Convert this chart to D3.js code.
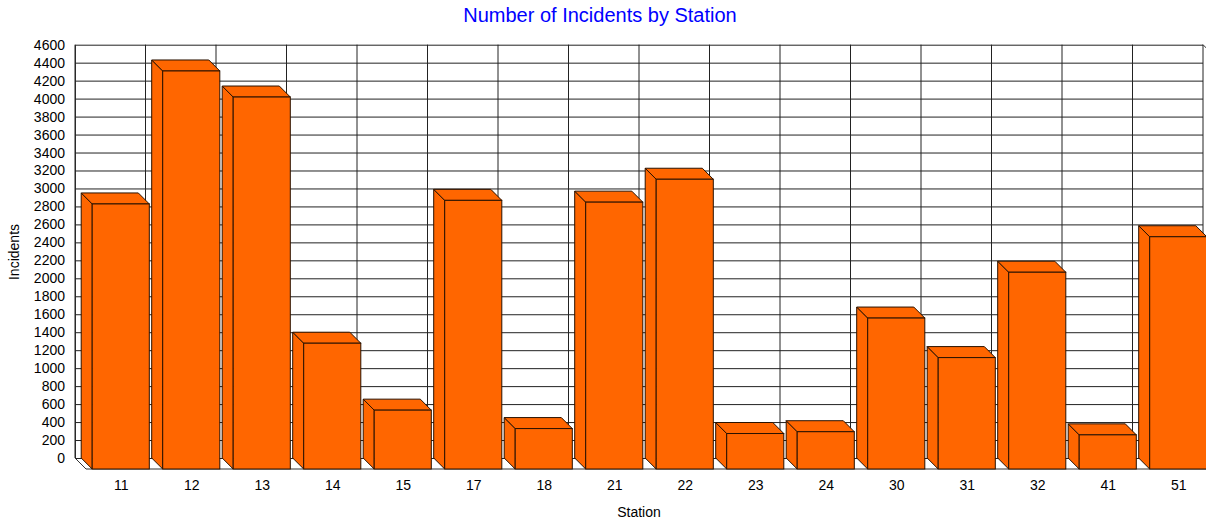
<!DOCTYPE html>
<html>
<head>
<meta charset="utf-8">
<script src="https://cdn.jsdelivr.net/npm/d3@7"></script>
<style>
    body { margin: 0; background: #fff; }
    svg { display: block; font-family: Arial, "Liberation Sans", sans-serif; }
</style>
</head>
<body>
<svg id="chart"></svg>
<script>
const stations = ["11", "12", "13", "14", "15", "17", "18", "21", "22", "23", "24", "30", "31", "32", "41", "51"];
const incidents = [2950, 4430, 4140, 1400, 655, 2990, 450, 2970, 3225, 395, 415, 1680, 1240, 2190, 380, 2585];
const yTickValues = [0, 200, 400, 600, 800, 1000, 1200, 1400, 1600, 1800, 2000, 2200,
    2400, 2600, 2800, 3000, 3200, 3400, 3600, 3800, 4000, 4200, 4400, 4600];

class BarChart3D {

    constructor( config, data ) {
        this.config = {
            parent: config.parent,
            width: config.width || 256,
            height: config.height || 256,
            wall: config.wall,           // back wall box
            depth: config.depth || 11,
            title: config.title || '',
            xlabel: config.xlabel || '',
            ylabel: config.ylabel || '',
            fontsize: config.fontsize || '14px'
        }
        this.data = data;
        this.init();
    }

    init() {
        let self = this;
        const w = self.config.wall;

        self.svg = d3.select( self.config.parent )
            .attr("width", self.config.width)
            .attr("height", self.config.height);

        self.xscale = d3.scaleBand()
            .domain( self.data.map(d => d.station) )
            .range( [w.left, w.right] );

        self.yscale = d3.scaleLinear()
            .domain( [0, 4600] )
            .range( [w.bottom, w.top] );

        self.render();
    }

    render() {
        let self = this;
        const w = self.config.wall;
        const dz = self.config.depth;
        const stroke = '#2a1200';

        // back wall + grid
        self.svg.append('rect')
            .attr('x', w.left).attr('y', w.top)
            .attr('width', w.right - w.left).attr('height', w.bottom - w.top)
            .attr('fill', '#fff');

        const yaxis = d3.axisLeft( self.yscale )
            .tickValues( yTickValues )
            .tickFormat( d3.format('d') )
            .tickSize( -(w.right - w.left) )
            .tickSizeOuter(0)
            .tickPadding(10);

        const yg = self.svg.append('g')
            .attr('transform', `translate(${w.left}, 0)`)
            .call( yaxis );
        yg.select('.domain').attr('stroke', '#333');
        yg.selectAll('.tick line').attr('stroke', '#222');
        yg.selectAll('.tick text')
            .attr('fill', '#000')
            .style('font-size', self.config.fontsize)
            .style('font-family', 'Arial, "Liberation Sans", sans-serif');

        // vertical grid on the wall
        const bounds = self.xscale.domain().map(s => self.xscale(s)).concat([w.right]);
        self.svg.append('g')
            .selectAll('line')
            .data(bounds)
            .join('line')
            .attr('x1', d => d).attr('x2', d => d)
            .attr('y1', w.top).attr('y2', w.bottom)
            .attr('stroke', '#222');

        // floor
        self.svg.append('path')
            .attr('d', `M${w.left},${w.bottom} L${w.left + dz},${w.bottom + dz} L${self.config.width + 20},${w.bottom + dz}`)
            .attr('fill', 'none')
            .attr('stroke', '#333');

        // right edge of the wall
        self.svg.append('path')
            .attr('d', `M${w.right},${w.top} L${w.right + dz},${w.top + dz}`)
            .attr('fill', 'none')
            .attr('stroke', '#333');

        // bars
        const bw = self.xscale.bandwidth() * 0.81;
        const off = (self.xscale.bandwidth() - bw) / 2 - 0.5;
        const bars = self.svg.append('g')
            .selectAll('g')
            .data(self.data)
            .join('g');

        const fx = d => self.xscale(d.station) + dz + off;
        const fy = d => self.yscale(d.value) + dz;
        const base = w.bottom + dz;

        bars.append('path')
            .attr('d', d => `M${fx(d) - dz},${fy(d) - dz} L${fx(d)},${fy(d)} L${fx(d)},${base} L${fx(d) - dz},${base - dz} Z`)
            .attr('fill', '#ff6600')
            .attr('stroke', stroke);

        bars.append('path')
            .attr('d', d => `M${fx(d) - dz},${fy(d) - dz} L${fx(d) - dz + bw},${fy(d) - dz} L${fx(d) + bw},${fy(d)} L${fx(d)},${fy(d)} Z`)
            .attr('fill', '#ff6600')
            .attr('stroke', stroke);

        bars.append('rect')
            .attr('x', fx)
            .attr('y', fy)
            .attr('width', bw)
            .attr('height', d => base - fy(d))
            .attr('fill', '#ff6600')
            .attr('stroke', stroke);

        // x axis labels (front plane)
        const xfront = self.xscale.copy().range( [w.left + dz, w.right + dz] );
        const xaxis = d3.axisBottom( xfront ).tickSize(0).tickPadding(11);
        const xg = self.svg.append('g')
            .attr('transform', `translate(0, ${base})`)
            .call( xaxis );
        xg.select('.domain').remove();
        xg.selectAll('.tick text')
            .attr('fill', '#000')
            .style('font-size', self.config.fontsize)
            .style('font-family', 'Arial, "Liberation Sans", sans-serif');

        // title & labels
        self.svg.append('text')
            .attr('x', 600).attr('y', 22)
            .attr('text-anchor', 'middle')
            .attr('fill', '#0000ff')
            .style('font-size', '20px')
            .text( self.config.title );

        self.svg.append('text')
            .attr('x', (w.left + w.right) / 2).attr('y', 517)
            .attr('text-anchor', 'middle')
            .attr('fill', '#000')
            .style('font-size', self.config.fontsize)
            .text( self.config.xlabel );

        self.svg.append('text')
            .attr('transform', `translate(19, 252) rotate(-90)`)
            .attr('text-anchor', 'middle')
            .attr('fill', '#000')
            .style('font-size', self.config.fontsize)
            .text( self.config.ylabel );
    }
}

const data = stations.map((s, i) => ({ station: s, value: incidents[i] }));

const chart = new BarChart3D({
    parent: '#chart',
    width: 1206,
    height: 521,
    wall: { left: 75, right: 1203, top: 44.7, bottom: 458 },
    depth: 11,
    title: 'Number of Incidents by Station',
    xlabel: 'Station',
    ylabel: 'Incidents',
    fontsize: '14px'
}, data);
</script>
</body>
</html>
